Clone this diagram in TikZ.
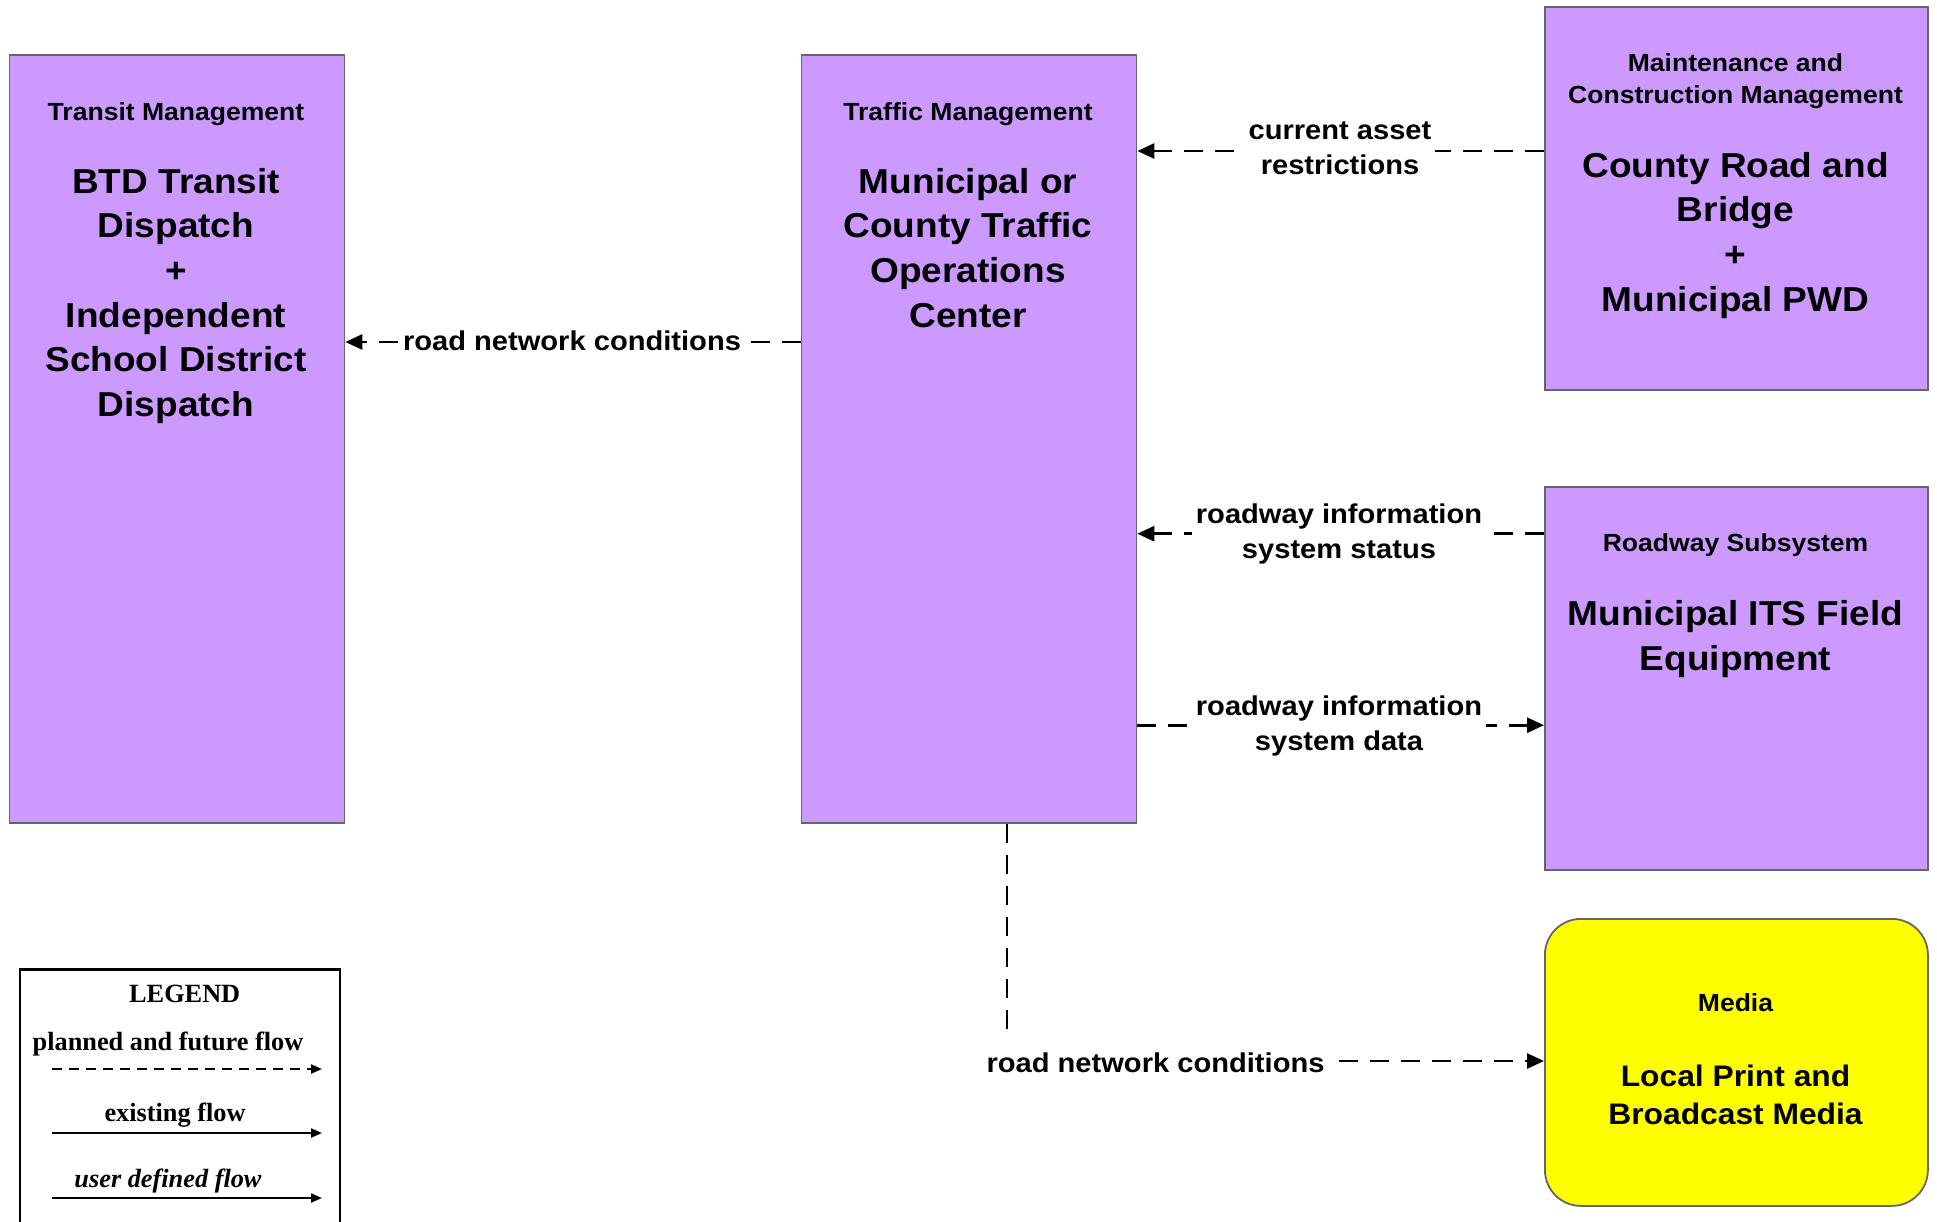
\documentclass[tikz,border=0pt]{standalone}
\usepackage{fontspec}
\setmainfont{Liberation Sans}[FakeStretch=1.07]
\newfontfamily\legfont{Liberation Serif}
\usetikzlibrary{arrows.meta}
\definecolor{boxpurple}{RGB}{204,153,255}
\definecolor{boxyellow}{RGB}{255,255,0}
\definecolor{boxedge}{RGB}{100,100,110}
\newcommand\firstln{\rule{0pt}{0.8em}}
\begin{document}
\begin{tikzpicture}[x=1pt,y=-1pt,
  sysbox/.style={draw=boxedge, line width=1.8pt, fill=boxpurple, inner sep=0pt, anchor=north west},
  hdr/.style={font=\fontsize{24.8}{32}\selectfont\bfseries, align=center, inner sep=0pt, anchor=north},
  big/.style={font=\fontsize{34.6}{44.7}\selectfont\bfseries, align=center, inner sep=0pt, anchor=north},
  medbig/.style={font=\fontsize{29.7}{37.5}\selectfont\bfseries, align=center, inner sep=0pt, anchor=north},
  lbl/.style={font=\fontsize{27.2}{35.2}\selectfont\bfseries, align=center, fill=white, inner xsep=4pt, inner ysep=2pt},
  flow/.style={draw=black, line width=2.6pt, dash pattern=on 19pt off 12pt, -{Triangle[length=17pt,width=15pt]}},
  flowplain/.style={draw=black, line width=2.6pt, dash pattern=on 19pt off 12pt},
  legtxt/.style={font=\fontsize{26.3}{30}\selectfont\legfont\bfseries, inner sep=0pt, anchor=base},
  legarrow/.style={draw=black, line width=2.2pt, -{Triangle[length=11pt,width=9pt]}}
]
\useasboundingbox (0,0) rectangle (1937,1222);

% system boxes
\node[sysbox, minimum width=335pt, minimum height=768pt] (transit) at (8.5,54) {};
\node[sysbox, minimum width=335pt, minimum height=768pt] (traffic) at (800.5,54) {};
\node[sysbox, minimum width=383pt, minimum height=383pt] (maint) at (1544,6) {};
\node[sysbox, minimum width=383pt, minimum height=383pt] (roadway) at (1544,486) {};
\node[sysbox, fill=boxyellow, rounded corners=36pt, minimum width=383pt, minimum height=287pt] (media) at (1544,918) {};

% box texts
\node[hdr] (transitH) at (176,100.7) {\firstln Transit Management};
\node[big] (transitB) at (176,165.3) {\firstln BTD Transit\\Dispatch\\+\\Independent\\School District\\Dispatch};

\node[hdr] (trafficH) at (968,100.7) {\firstln Traffic Management};
\node[big] (trafficB) at (968,165.3) {\firstln Municipal or\\County Traffic\\Operations\\Center};

\node[hdr] (maintH) at (1735.5,51.3) {\firstln Maintenance and\\Construction Management};
\node[big] (maintB) at (1735.5,149.3) {\firstln County Road and\\Bridge\\+\\Municipal PWD};

\node[hdr] (roadwayH) at (1735.5,531.9) {\firstln Roadway Subsystem};
\node[big] (roadwayB) at (1735.5,597.7) {\firstln Municipal ITS Field\\Equipment};

\node[hdr] (mediaH) at (1735.5,991.3) {\firstln Media};
\node[medbig] (mediaB) at (1735.5,1063) {\firstln Local Print and\\Broadcast Media};

% connectors
\coordinate (y1) at (0,342);
\coordinate (y2) at (0,151);
\coordinate (y3) at (0,533.7);
\coordinate (y4) at (0,725.2);
\coordinate (c5) at (1007,1061);
\coordinate (c5top) at (1007,1033);

\draw[flow] (traffic.west |- y1) -- (transit.east |- y1);
\draw[flow] (maint.west |- y2) -- (traffic.east |- y2);
\draw[flow] (roadway.west |- y3) -- (traffic.east |- y3);
\draw[flow] (traffic.east |- y4) -- (roadway.west |- y4);

\node[lbl, anchor=base] (lab1) at (572,351) {road network conditions};
\node[lbl, anchor=north] (lab2) at (1340,115.7) {\firstln current asset\\restrictions};
\node[lbl, anchor=north] (lab3) at (1339,499.4) {\firstln roadway information\\system status};
\node[lbl, anchor=north] (lab4) at (1339,691.4) {\firstln roadway information\\system data};

\draw[flowplain] (c5 |- traffic.south) -- (c5top);
\node[lbl, anchor=base, fill=none, inner xsep=0pt] (lab5) at (1155.5,1072) {road network conditions};
\draw[flow] ([xshift=14pt]lab5.east |- c5) -- (media.west |- c5);

% legend
\node[draw=black, line width=2.6pt, minimum width=320pt, minimum height=290pt, inner sep=0pt, anchor=north west] (legend) at (18.5,968) {};
\node[legtxt] (legT) at (184.7,1002) {LEGEND};
\node[legtxt] (leg1) at (168,1050) {planned and future flow};
\node[legtxt] (leg2) at (175,1121) {existing flow};
\node[legtxt, font=\fontsize{26.3}{30}\selectfont\legfont\bfseries\itshape] (leg3) at (168,1187) {user defined flow};
\coordinate (la1) at (52,1069); \coordinate (lb1) at (322,1069);
\coordinate (la2) at (52,1133); \coordinate (lb2) at (322,1133);
\coordinate (la3) at (52,1198); \coordinate (lb3) at (322,1198);
\draw[legarrow, dash pattern=on 10pt off 7pt] (la1) -- (lb1);
\draw[legarrow] (la2) -- (lb2);
\draw[legarrow] (la3) -- (lb3);
\end{tikzpicture}
\end{document}
